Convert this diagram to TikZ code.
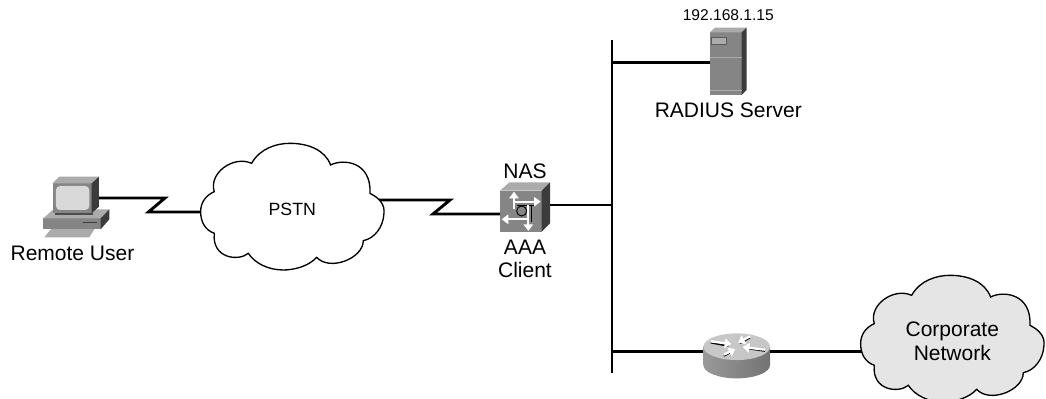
\documentclass[tikz,border=0pt]{standalone}
\usepackage{fontspec}
\setmainfont{Liberation Sans}
\usetikzlibrary{
    arrows.meta, % for the white arrows on the icons
    backgrounds, % for the links behind the icons
    positioning % for the labels below and above the icons
}

\definecolor{iconfront}{HTML}{858585}
\definecolor{icontop}{HTML}{ABABAB}
\definecolor{iconside}{HTML}{3C3C3C}

\tikzset{
    iconbox/.style  = {inner sep=0pt,outer sep=0pt},
    caption/.style  = {inner sep=0pt,align=center,font=\fontsize{15.75}{18}\selectfont},
    small caption/.style = {caption,font=\fontsize{11.7}{14}\selectfont},
    link/.style     = {line width=2.2pt,line join=miter},
    white tip/.style = {draw=white,line width=1.7pt,-{Triangle[length=5pt,width=7pt]}},
    shadow tip/.style = {draw=black,line width=1.2pt},
    pics/cloudicon/.style = {code={
        \begin{scope}[x=.25pt,y=-.25pt,shift={(-337,-237)}]
        \draw [line width=1pt,fill=#1] (62,245)
            .. controls (62,215) and (80,195) .. (103,185)
            .. controls (85,130) and (160,75) .. (215,100)
            .. controls (240,55) and (290,40) .. (330,40)
            .. controls (385,40) and (435,60) .. (452,105)
            .. controls (490,85) and (575,95) .. (570,190)
            .. controls (600,205) and (615,225) .. (612,250)
            .. controls (610,290) and (585,325) .. (550,332)
            .. controls (550,385) and (450,425) .. (410,382)
            .. controls (385,410) and (340,420) .. (310,420)
            .. controls (265,420) and (225,400) .. (205,370)
            .. controls (175,395) and (95,385) .. (103,310)
            .. controls (75,300) and (62,275) .. (62,245) -- cycle;
        \end{scope}
    }},
    pics/pcicon/.style = {code={
        \begin{scope}[x=.25pt,y=-.25pt,shift={(-229,-171)}]
        \fill [icontop]   (133,262) -- (155,235) -- (285,235) -- (268,262) -- cycle;
        \fill [iconfront] (130,205) rectangle (302,238);
        \fill [icontop]   (130,205) -- (160,178) -- (328,178) -- (302,205) -- cycle;
        \fill [iconside]  (302,205) -- (328,178) -- (328,208) -- (302,238) -- cycle;
        \draw [line width=.6pt,iconside] (248,218) -- (290,218);
        \fill [black!70]  (165,190) rectangle (280,196);
        \fill [iconfront] (158,100) rectangle (275,190);
        \fill [icontop]   (158,100) -- (178,80) -- (297,80) -- (275,100) -- cycle;
        \fill [iconside]  (275,100) -- (297,80) -- (297,170) -- (275,190) -- cycle;
        \fill [black!15,rounded corners=3pt] (168,108) rectangle (268,180);
        \end{scope}
    }},
    pics/nasicon/.style = {code={
        \begin{scope}[x=.25pt,y=-.25pt,shift={(-315,-171)}]
        \fill [iconfront] (240,122) rectangle (365,245);
        \fill [icontop]   (240,122) -- (268,97) -- (390,97) -- (365,122) -- cycle;
        \fill [iconside]  (365,122) -- (390,97) -- (390,220) -- (365,245) -- cycle;
        \draw [black,line width=.5pt] (292,166) -- (342,166);
        \draw [black,line width=.5pt] (335,168) -- (335,215);
        \draw [black,line width=.7pt] (305,183) circle (15);
        \draw [white tip] (282,178) -- (282,125);
        \draw [white tip] (282,155) -- (362,155);
        \draw [white tip] (325,208) -- (245,208);
        \draw [white tip] (325,165) -- (325,243);
        \end{scope}
    }},
    pics/servericon/.style = {code={
        \begin{scope}[x=.25pt,y=-.25pt,shift={(-385,-187)}]
        \fill [iconfront] (330,97) rectangle (425,285);
        \fill [icontop]   (330,97) -- (345,83) -- (440,83) -- (425,97) -- cycle;
        \fill [iconside]  (425,97) -- (440,83) -- (440,270) -- (425,285) -- cycle;
        \draw [icontop,line width=.6pt] (330,172) -- (425,172);
        \draw [icontop,line width=.6pt] (330,270) -- (425,270);
        \draw [black!65,fill=icontop,line width=.4pt] (335,113) rectangle (380,133);
        \end{scope}
    }},
    pics/routericon/.style = {code={
        \begin{scope}[x=.25pt,y=-.25pt,shift={(-410,-167)}]
        \shade [left color=black!40,middle color=black!5,right color=black!55]
            (310,140) -- (310,195) arc [start angle=180,end angle=0,x radius=100,y radius=40]
            -- (510,140) -- cycle;
        \fill [black!22] (410,140) ellipse [x radius=100,y radius=40];
        \draw [shadow tip] (332,128) -- (385,138);
        \draw [white tip]  (332,124) -- (394,132);
        \draw [shadow tip] (450,113) -- (420,130);
        \draw [white tip]  (450,109) -- (414,128);
        \draw [shadow tip] (372,168) -- (400,152);
        \draw [white tip]  (372,164) -- (406,147);
        \draw [shadow tip] (495,153) -- (440,145);
        \draw [white tip]  (495,149) -- (428,141);
        \end{scope}
    }}
}

\begin{document}
\begin{tikzpicture}[x=.75pt,y=-.75pt]

    \useasboundingbox (0,0) rectangle (1046,399);

% Icons and their captions

    \node [iconbox,minimum width=49.5pt,minimum height=45.5pt] (pc) at (76.3,207) {};
    \node [caption] (pclabel) [below=6pt of pc,xshift=-2.85pt] {Remote User};

    \node [iconbox,caption,font=\fontsize{13.3}{16}\selectfont,minimum width=137pt,minimum height=95pt] (pstn) at (292.3,209) {PSTN};

    \node [iconbox,minimum width=37.5pt,minimum height=37pt] (nas) at (525,207) {};
    \node [caption] (naslabel) [above=2.5pt of nas] {NAS};
    \node [caption] (aaalabel) [below=6pt of nas] {AAA\\[-1pt]Client};

    \node [iconbox,minimum width=27.5pt,minimum height=50.5pt] (server) at (728.3,62.3) {};
    \node [small caption] (iplabel) [above=6pt of server] {192.168.1.15};
    \node [caption] (serverlabel) [below=5pt of server] {RADIUS Server};

    \node [iconbox,minimum width=50pt,minimum height=33.5pt] (router) at (736.7,355.7) {};
    \node [iconbox,caption,minimum width=137pt,minimum height=95pt] (corp) at (952.3,341) {Corporate\\Network};

    \pic at (pc)     {pcicon};
    \pic at (nas)    {nasicon};
    \pic at (server) {servericon};
    \pic at (router) {routericon};

% Links, behind the icons and clouds

    \coordinate (bustop)  at (612,40.5);
    \coordinate (busbot)  at (612,372.5);
    \coordinate (busnas)  at (612,205);
    \coordinate (busrtr)  at (612,351.7);
    \coordinate (zpca)    at (165,198);
    \coordinate (zpcb)    at (148.5,212);
    \coordinate (znasa)   at (450,200);
    \coordinate (znasb)   at (433,214);

\begin{scope}[on background layer]

    \draw [link] (bustop) -- (busbot);
    \draw [link] (pc |- zpca) -- (zpca) -- (zpcb) -- (pstn.center |- zpcb);
    \draw [link] (pstn.center |- znasa) -- (znasa) -- (znasb) -- (nas.center |- znasb);
    \draw [link] (nas.center |- busnas) -- (busnas);
    \draw [link] (server.center -| bustop) -- (server.center);
    \draw [link] (busrtr) -- (corp.center |- busrtr);

    \pic at (pstn) {cloudicon=white};
    \pic at (corp) {cloudicon=black!10};

\end{scope}

\end{tikzpicture}
\end{document}
